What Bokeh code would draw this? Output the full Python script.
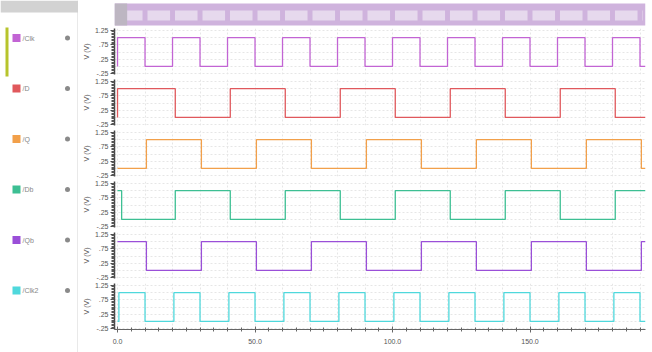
from bokeh.plotting import figure
from bokeh.layouts import column, row
from bokeh.models import Range1d, FixedTicker, PrintfTickFormatter
from bokeh.core.properties import value
from bokeh.embed import file_html
from bokeh.resources import INLINE

# ---- data ----
signal_names = ["/Clk", "/D", "/Q", "/Db", "/Qb", "/Clk2"]
signal_colors = ["#c264d4", "#e0585c", "#f2a04a", "#3dbf93", "#9a4fd8", "#4fd8dc"]

clk_t = [0, 0, 10, 20, 30, 40, 50, 60, 70, 80, 90, 100, 110, 120, 130, 140, 150, 160, 170, 180, 190, 192]
clk_v = [0, 1, 0, 1, 0, 1, 0, 1, 0, 1, 0, 1, 0, 1, 0, 1, 0, 1, 0, 1, 0, 0]

d_t = [0, 0, 21, 41, 61, 81, 101, 121, 141, 161, 181, 192]
d_v = [0, 1, 0, 1, 0, 1, 0, 1, 0, 1, 0, 0]

q_t = [0, 10.5, 30.5, 50.5, 70.5, 90.5, 110.5, 130.5, 150.5, 170.5, 190.5, 192]
q_v = [0, 1, 0, 1, 0, 1, 0, 1, 0, 1, 0, 0]

db_t = [0, 1.5, 21, 41, 61, 81, 101, 121, 141, 161, 181, 192]
db_v = [1, 0, 1, 0, 1, 0, 1, 0, 1, 0, 1, 1]

qb_t = [0, 10.5, 30.5, 50.5, 70.5, 90.5, 110.5, 130.5, 150.5, 170.5, 190.5, 192]
qb_v = [1, 0, 1, 0, 1, 0, 1, 0, 1, 0, 1, 1]

clk2_t = [0, 0.5, 10, 20.5, 30, 40.5, 50, 60.5, 70, 80.5, 90, 100.5, 110, 120.5, 130, 140.5, 150, 160.5, 170, 180.5, 190, 192]
clk2_v = [0, 1, 0, 1, 0, 1, 0, 1, 0, 1, 0, 1, 0, 1, 0, 1, 0, 1, 0, 1, 0, 0]

y_ticks = [-0.25, 0.25, 0.75, 1.25]
y_tick_labels = ["-.25", ".25", ".75", "1.25"]
x_ticks = [0, 50, 100, 150]

series = [(clk_t, clk_v), (d_t, d_v), (q_t, q_v), (db_t, db_v), (qb_t, qb_v), (clk2_t, clk2_v)]

FONT = "Liberation Sans"
xr = Range1d(-1.1, 192.0)
RIGHT_W = 574

# ---- top overview bar ----
top = figure(width=RIGHT_W, height=27, x_range=xr, y_range=Range1d(0, 27),
             output_backend="svg", toolbar_location=None,
             min_border_left=36, min_border_right=7, min_border_top=0, min_border_bottom=0,
             x_axis_location=None, y_axis_location=None)
top.outline_line_color = None
top.grid.visible = False
top.quad(left=[xr.start], right=[xr.end], bottom=[2], top=[24],
         fill_color="#cfb3dd", line_color=None)
seg_l = clk_t[1:-1]
seg_r = clk_t[2:]
top.quad(left=[a + 0.9 for a in seg_l], right=[b - 0.9 for b in seg_r],
         bottom=[7] * len(seg_l), top=[17] * len(seg_l),
         fill_color="#e6d9ed", line_color=None)
top.quad(left=[xr.start], right=[3.5], bottom=[2], top=[24],
         fill_color="#bdb6c2", line_color=None)

# ---- strips ----
strips = []
for k, (t, v) in enumerate(series):
    last = k == len(series) - 1
    p = figure(width=RIGHT_W, height=70 if last else 51, x_range=xr,
               y_range=Range1d(-0.28, 1.32),
               output_backend="svg", toolbar_location=None,
               min_border_left=36, min_border_right=7, min_border_top=1,
               min_border_bottom=23 if last else 4,
               x_axis_location="below" if last else None)
    p.outline_line_color = None
    p.step(t, v, mode="after", line_color=signal_colors[k], line_width=1.3)

    ya = p.yaxis[0]
    ya.ticker = FixedTicker(ticks=y_ticks,
                            minor_ticks=[round(-0.25 + 0.05 * i, 2) for i in range(31)])
    ya.major_label_overrides = dict(zip(y_ticks, y_tick_labels))
    ya.major_label_text_font = FONT
    ya.major_label_text_font_size = "7px"
    ya.major_label_text_color = "#555555"
    ya.major_label_standoff = 2
    ya.axis_label = "V (V)"
    ya.axis_label_text_font = FONT
    ya.axis_label_text_font_size = "7px"
    ya.axis_label_text_font_style = "normal"
    ya.axis_label_text_color = "#555555"
    ya.axis_label_standoff = 2
    ya.axis_line_color = "#444444"
    ya.axis_line_width = 1.5
    ya.major_tick_out = 4
    ya.major_tick_in = 0
    ya.minor_tick_out = 3
    ya.minor_tick_in = 0
    ya.major_tick_line_color = "#444444"
    ya.minor_tick_line_color = "#555555"

    p.ygrid.ticker = FixedTicker(ticks=[-0.25, 0.0, 0.25, 0.5, 0.75, 1.0, 1.25])
    p.ygrid.grid_line_color = "#e6e6e6"
    p.ygrid.grid_line_dash = "2 2"
    p.xgrid.ticker = FixedTicker(ticks=list(range(0, 200, 10)))
    p.xgrid.grid_line_color = "#e6e6e6"
    p.xgrid.grid_line_dash = "2 2"

    if last:
        xa = p.xaxis[0]
        xa.ticker = FixedTicker(ticks=x_ticks, minor_ticks=list(range(0, 195, 5)))
        xa.formatter = PrintfTickFormatter(format="%.1f")
        xa.major_label_text_font = FONT
        xa.major_label_text_font_size = "7px"
        xa.major_label_text_color = "#555555"
        xa.major_label_standoff = 6
        xa.axis_line_color = "#666666"
        xa.major_tick_in = 3
        xa.major_tick_out = 3
        xa.minor_tick_in = 2
        xa.minor_tick_out = 2
        xa.major_tick_line_color = "#666666"
        xa.minor_tick_line_color = "#666666"
    strips.append(p)

# ---- left name panel (page-pixel coordinates) ----
panel = figure(width=78, height=352, x_range=Range1d(0, 78), y_range=Range1d(352, 0),
               output_backend="svg", toolbar_location=None,
               min_border=0, x_axis_location=None, y_axis_location=None)
panel.outline_line_color = None
panel.grid.visible = False
panel.quad(left=[0], right=[78], top=[0], bottom=[12], fill_color="#d2d2d2", line_color=None)
panel.segment(x0=[77.5], y0=[0], x1=[77.5], y1=[352], line_color="#d2d2d2", line_width=1)
panel.quad(left=[5], right=[8], top=[27], bottom=[76], fill_color="#b7c42c", line_color=None)
row_y = [37.5 + 50.5 * k for k in range(len(signal_names))]
panel.rect(x=[16] * len(row_y), y=row_y, width=8, height=8,
           fill_color=signal_colors, line_color=None)
panel.text(x=[22] * len(row_y), y=row_y, text=signal_names,
           text_font=value(FONT), text_font_size="7px", text_color="#888888",
           text_baseline="middle", text_align="left")
panel.scatter(x=[67] * len(row_y), y=row_y, size=5, fill_color="#8a8a8a", line_color=None)

layout = row(panel, column(top, *strips, spacing=0), spacing=0)

open("out.html", "w").write(file_html(layout, INLINE))
